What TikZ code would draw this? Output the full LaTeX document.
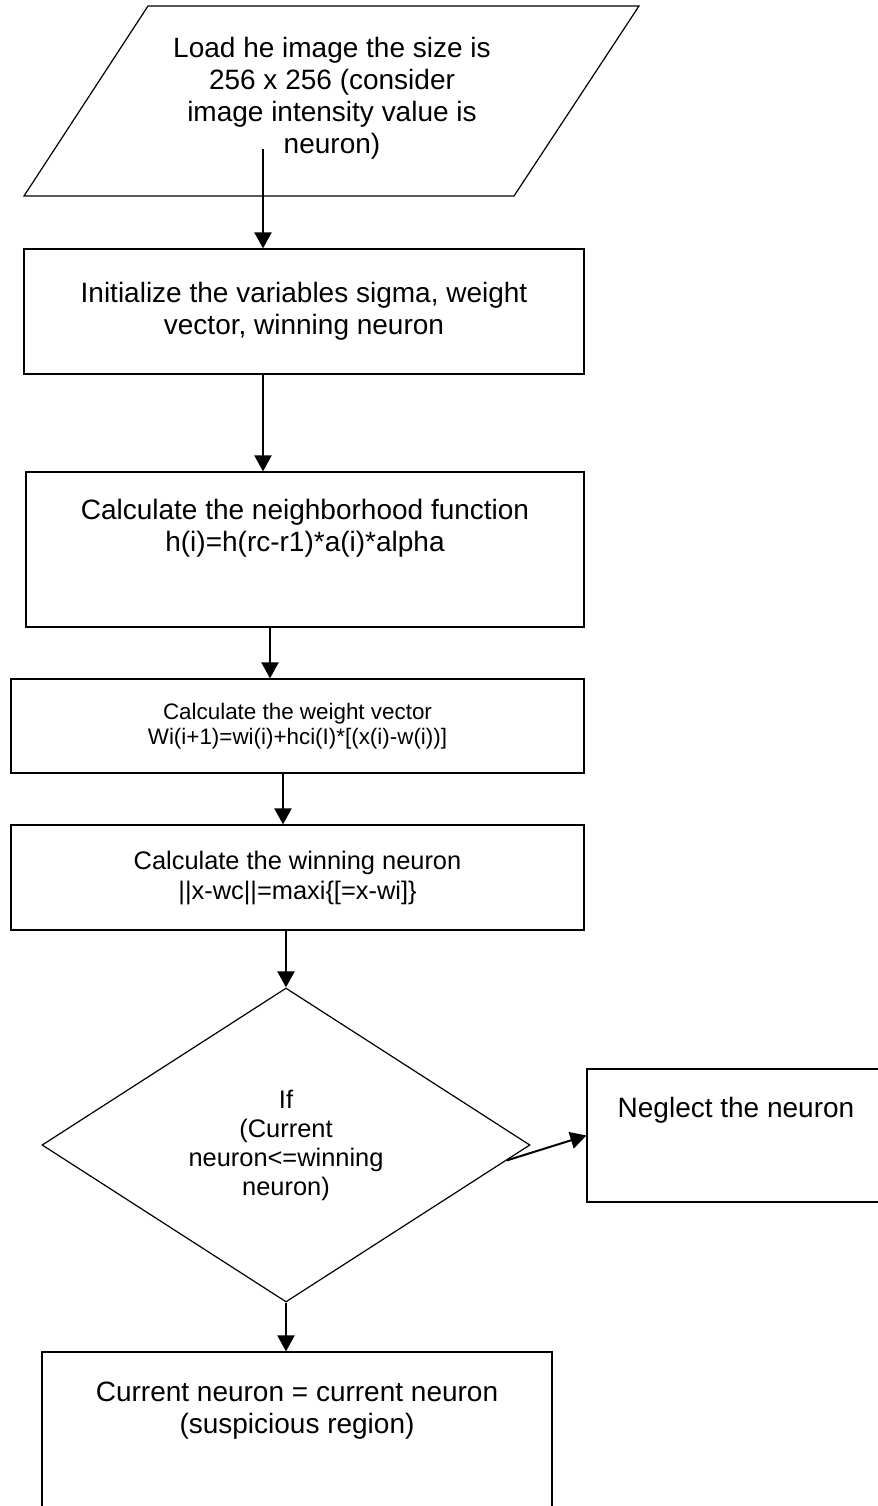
\documentclass[tikz,border=0pt]{standalone}
\usepackage{fontspec}
\setmainfont{Liberation Sans}
\usetikzlibrary{arrows.meta}
\usetikzlibrary{shapes.geometric}
\tikzstyle{arrow} = [line width=1pt, ->, >={Triangle[length=8pt,width=8.5pt]}]
\tikzstyle{procbox} = [draw, line width=0.6pt, rectangle, align=center, inner sep=0pt]
\tikzstyle{txt} = [align=center, inner sep=0pt]

\begin{document}
\begin{tikzpicture}[x=0.5pt, y=-0.5pt, font=\fontsize{14}{16}\selectfont]
            \useasboundingbox (0,0) rectangle (878,1506);
            % input
            \draw [line width=0.6pt] (148,6) -- (639,6) -- (514,196) -- (24,196) -- cycle;
            \node [txt] (load) at (332,98) {Load he image the size is\\256 x 256 (consider\\image intensity value is\\neuron)};
            \coordinate (loadout) at (263,149);
            % steps
            \node [procbox, minimum width=280pt, minimum height=62.5pt] (init) at (304,311.5) {Initialize the variables sigma, weight\\vector, winning neuron};
            \node [procbox, minimum width=279pt, minimum height=77.5pt] (nbr) at (305,549.5) {};
            \node [txt] (nbrtext) at (305,528.5) {Calculate the neighborhood function\\h(i)=h(rc-r1)*a(i)*alpha};
            \node [procbox, minimum width=286.5pt, minimum height=47pt, font=\fontsize{11.2}{12.5}\selectfont] (wvec) at (297.5,726) {Calculate the weight vector\\Wi(i+1)=wi(i)+hci(I)*[(x(i)-w(i))]};
            \node [procbox, minimum width=286.5pt, minimum height=52.5pt, font=\fontsize{12.7}{15}\selectfont] (win) at (297.5,877.5) {Calculate the winning neuron\\||x-wc||=maxi\{[=x-wi]\}};
            % decision
            \node [draw, diamond, line width=0.6pt, minimum width=244pt, minimum height=157pt, inner sep=0pt, align=center, font=\fontsize{12.7}{14.5}\selectfont] (dec) at (286,1145) {If\\(Current\\neuron<=winning\\neuron)};
            \node [procbox, minimum width=149pt, minimum height=66.5pt] (neg) at (736,1135.5) {};
            \node [txt] (negtext) at (736,1110) {Neglect the neuron};
            \node [procbox, minimum width=255pt, minimum height=114pt] (cur) at (297,1466) {};
            \node [txt] (curtext) at (297,1411) {Current neuron = current neuron\\(suspicious region)};
            % flow
            \draw [arrow] (loadout) -- ([xshift=-20.5pt]init.north);
            \draw [arrow] ([xshift=-20.5pt]init.south) -- ([xshift=-21pt]nbr.north);
            \draw [arrow] ([xshift=-17.5pt]nbr.south) -- ([xshift=-13.75pt]wvec.north);
            \draw [arrow] ([xshift=-7.25pt]wvec.south) -- ([xshift=-7.25pt]win.north);
            \draw [arrow] (win.south -| dec.north) -- (dec.north);
            \draw [arrow] (dec.south) -- (dec.south |- cur.north);
            \draw [arrow] (dec.-4) -- (neg.west);
\end{tikzpicture}
\end{document}
